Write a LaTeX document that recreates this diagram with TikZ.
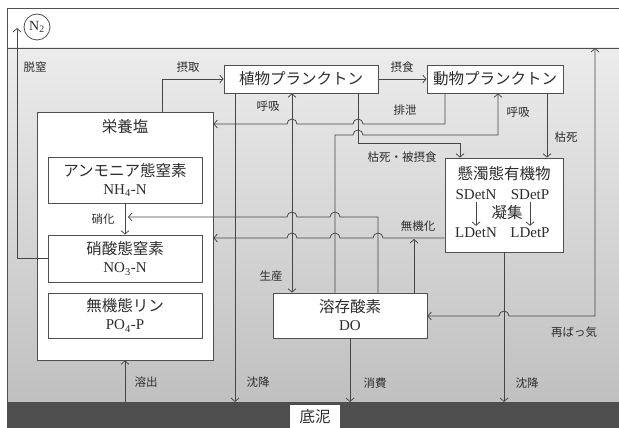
\documentclass[tikz,border=0pt]{standalone}
\usepackage{fontspec}
\setmainfont{Liberation Serif}
\newfontfamily\jp{Noto Sans CJK JP}
\usetikzlibrary{arrows.meta}
\definecolor{lc}{RGB}{70,70,70}
\definecolor{bc}{RGB}{80,80,80}
\definecolor{tc}{RGB}{45,45,45}
\definecolor{wtop}{RGB}{236,236,236}
\definecolor{wbot}{RGB}{192,192,192}
\definecolor{sedc}{RGB}{78,78,78}
\tikzset{
  ln/.style={draw=lc, line width=0.75pt},
  arr/.style={ln, -{Straight Barb[length=3.5pt,width=8pt,line width=0.75pt]}},
  darr/.style={ln, {Straight Barb[length=3.5pt,width=8pt,line width=0.75pt]}-{Straight Barb[length=3.5pt,width=8pt,line width=0.75pt]}},
  box/.style={draw=bc, fill=white, line width=0.8pt, inner sep=0pt, text=tc,
    font=\fontsize{15}{18}\selectfont},
  jt/.style={inner sep=0pt, text=tc, font=\jp\fontsize{15.5}{18}\selectfont},
  lt/.style={inner sep=0pt, text=tc, font=\fontsize{15}{18}\selectfont},
  lbl/.style={inner sep=0pt, text=tc, font=\jp\fontsize{11.5}{13}\selectfont},
}
\begin{document}
\begin{tikzpicture}[x=1pt,y=-1pt]
\useasboundingbox (0,0) rectangle (619,428);
% background regions
\fill[white] (7,8) rectangle (619,48);
\shade[top color=wtop, bottom color=wbot] (7,48) rectangle (619,402);
\fill[sedc] (7,402) rectangle (619,428);
\draw[bc, line width=0.8pt] (619,8) -- (7,8) -- (7,402);
\draw[bc, line width=0.8pt] (7,48) -- (619,48);

% nodes
\node[draw=bc, circle, minimum size=26pt, inner sep=0pt, line width=0.8pt,
  text=tc, font=\fontsize{14}{16}\selectfont] (n2) at (37,27) {N\textsubscript{2}};
\node[box, minimum width=176pt, minimum height=248pt] (nut) at (125,236) {};
\node[jt] (nuttitle) at (125,127) {栄養塩};
\node[box, minimum width=154pt, minimum height=46pt, align=center] (nh4) at (125,180)
  {{\jp\fontsize{15.5}{18}\selectfont アンモニア態窒素}\\NH\textsubscript{4}-N};
\node[box, minimum width=154pt, minimum height=47pt, align=center] (no3) at (125,258.5)
  {{\jp\fontsize{15.5}{18}\selectfont 硝酸態窒素}\\NO\textsubscript{3}-N};
\node[box, minimum width=154pt, minimum height=45pt, align=center] (po4) at (125,315.5)
  {{\jp\fontsize{15.5}{18}\selectfont 無機態リン}\\PO\textsubscript{4}-P};
\node[box, minimum width=154pt, minimum height=28pt, font=\jp\fontsize{15.5}{18}\selectfont] (phyto) at (301,79) {植物プランクトン};
\node[box, minimum width=136pt, minimum height=28pt, font=\jp\fontsize{15.5}{18}\selectfont] (zoo) at (495,79) {動物プランクトン};
\node[box, minimum width=118pt, minimum height=94pt] (det) at (504,205) {};
\node[jt] (dett) at (504,174) {懸濁態有機物};
\node[lt] (sdn) at (476,195) {SDetN};
\node[lt] (sdp) at (530,195) {SDetP};
\node[jt] (agg) at (507,213) {凝集};
\node[lt] (ldn) at (476,233) {LDetN};
\node[lt] (ldp) at (530,233) {LDetP};
\node[box, minimum width=154pt, minimum height=45pt, align=center] (do) at (350,315.5)
  {{\jp\fontsize{15.5}{18}\selectfont 溶存酸素}\\DO};
\node[draw=none, fill=white, inner sep=0pt, text=tc, minimum width=50pt, minimum height=23pt, font=\jp\fontsize{15.5}{18}\selectfont] (mud) at (315,416.5) {底泥};

% free ends
\coordinate (sedtop) at (0,402);
\coordinate (n2side) at (17,28);
\coordinate (surf) at (595,48);
\coordinate (nitrpt) at (128,217);
\coordinate (minpt) at (414,239);

% connectors
\draw[arr] (no3.west) -| (n2side);
\draw[arr] (nh4.south) -- (no3.north);
\draw[arr] (162,0 |- nut.north) |- (phyto.west);
\draw[arr] (phyto.east) -- (zoo.west);
\draw[arr] (445,0 |- zoo.south) -- (445,124) -- (363,124)
  arc[start angle=0,end angle=180,radius=5pt] -- (297,124)
  arc[start angle=0,end angle=180,radius=5pt] -- (nut.east |- 0,124);
\draw[arr] (335,0 |- do.north) -- (335,135) -- (353,135)
  arc[start angle=180,end angle=0,radius=5pt] -- (498,135) -- (498,0 |- zoo.south);
\draw[arr] (358,0 |- phyto.south) -- (358,143) -- (460,143) -- (460,0 |- det.north);
\draw[arr] (547,0 |- zoo.south) -- (547,0 |- det.north);
\draw[arr] (235,0 |- phyto.south) -- (235,0 |- sedtop);
\draw[darr] (292,0 |- phyto.south) -- (292,0 |- do.north);
\draw[arr] (378,0 |- do.north) -- (378,217) -- (340,217)
  arc[start angle=0,end angle=180,radius=5pt] -- (297,217)
  arc[start angle=0,end angle=180,radius=5pt] -- (nitrpt);
\draw[arr] (det.west |- 0,238) -- (383,238)
  arc[start angle=0,end angle=180,radius=5pt] -- (340,238)
  arc[start angle=0,end angle=180,radius=5pt] -- (297,238)
  arc[start angle=0,end angle=180,radius=5pt] -- (nut.east |- 0,238);
\draw[arr] (414,0 |- do.north) -- (minpt);
\draw[arr] (do.south) -- (do.south |- sedtop);
\draw[arr] (det.south) -- (det.south |- sedtop);
\draw[darr] (surf) -- (595,316) -- (509,316)
  arc[start angle=0,end angle=180,radius=5pt] -- (do.east |- 0,316);
\draw[arr] (125,0 |- sedtop) -- (nut.south);
\draw[arr, shorten <=2pt, shorten >=2pt] (sdn.south) -- (ldn.north);
\draw[arr, shorten <=2pt, shorten >=2pt] (sdp.south) -- (ldp.north);

% labels
\node[lbl] (l1) at (35,67) {脱窒};
\node[lbl] (l2) at (188,67) {摂取};
\node[lbl] (l3) at (402,67) {摂食};
\node[lbl] (l4) at (268,106) {呼吸};
\node[lbl] (l5) at (405,110) {排泄};
\node[lbl] (l6) at (518,112) {呼吸};
\node[lbl] (l7) at (566,137) {枯死};
\node[lbl] (l8) at (402,157) {枯死・被摂食};
\node[lbl] (l9) at (103,219) {硝化};
\node[lbl] (l10) at (418,226) {無機化};
\node[lbl] (l11) at (271,276) {生産};
\node[lbl] (l12) at (574,332) {再ばっ気};
\node[lbl] (l13) at (146,382) {溶出};
\node[lbl] (l14) at (258,382) {沈降};
\node[lbl] (l15) at (375,383) {消費};
\node[lbl] (l16) at (527,383) {沈降};
\end{tikzpicture}
\end{document}
